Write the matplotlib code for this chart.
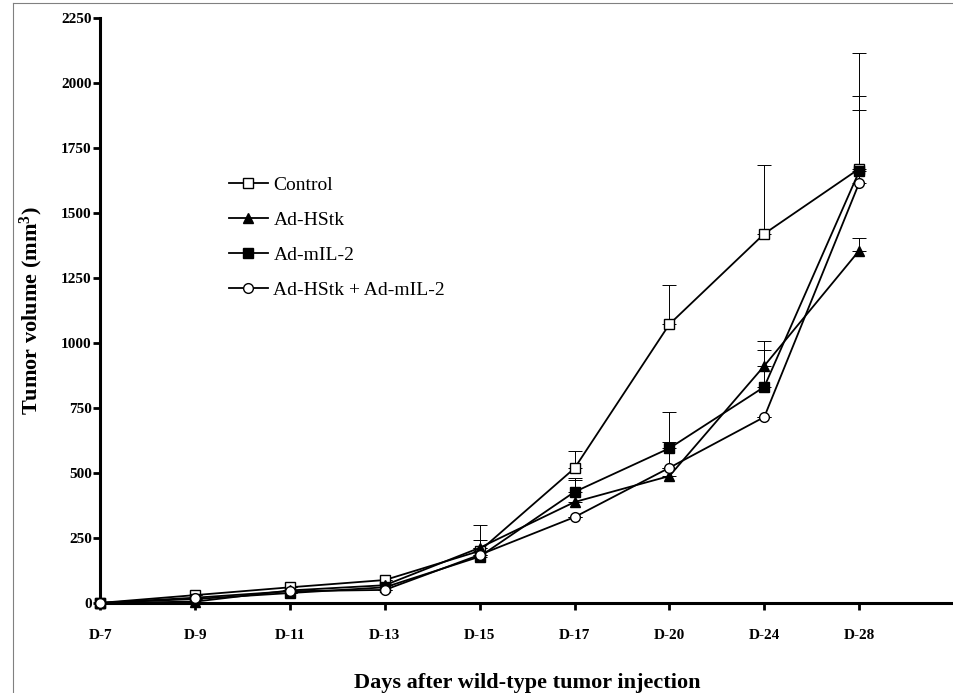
import matplotlib
matplotlib.use('Agg')
import matplotlib.pyplot as plt
import numpy as np

plt.rcParams['font.family'] = ['Liberation Serif', 'DejaVu Serif']
plt.rcParams['mathtext.fontset'] = 'custom'
plt.rcParams['mathtext.rm'] = 'Liberation Serif:bold'
plt.rcParams['mathtext.it'] = 'Liberation Serif:bold'

days = ['D-7', 'D-9', 'D-11', 'D-13', 'D-15', 'D-17', 'D-20', 'D-24', 'D-28']

control = [0, 30, 60, 88, 200, 518, 1072, 1420, 1670]
hstk = [0, 5, 48, 68, 212, 388, 488, 912, 1355]
mil2 = [0, 15, 38, 60, 178, 427, 595, 831, 1660]
combo = [0, 20, 45, 50, 185, 330, 520, 715, 1615]

control_err = [0, 0, 0, 0, 100, 65, 150, 265, 445]
hstk_err = [0, 0, 0, 0, 0, 85, 130, 95, 50]
mil2_err = [0, 0, 0, 0, 65, 55, 140, 142, 290]
combo_err = [0, 0, 0, 0, 0, 0, 0, 0, 280]

series = [
    ('Control', control, control_err, 's', 'white'),
    ('Ad-HStk', hstk, hstk_err, '^', 'black'),
    ('Ad-mIL-2', mil2, mil2_err, 's', 'black'),
    ('Ad-HStk + Ad-mIL-2', combo, combo_err, 'o', 'white'),
]

fig = plt.figure(figsize=(9.54, 6.93), dpi=100)
ax = fig.add_axes([0.105, 0.13, 0.895, 0.844])
x = np.arange(len(days))

for label, vals, err, mk, fc in series:
    vals = np.array(vals, dtype=float)
    err = np.array(err, dtype=float)
    ax.errorbar(x, vals, yerr=[np.zeros_like(err), err], fmt='none',
                ecolor='black', elinewidth=0.7, capsize=5, capthick=0.7,
                zorder=2)
    ax.plot(x, vals, '-', color='black', lw=1.3, marker=mk, ms=7,
            mfc=fc, mec='black', mew=1.0, label=label, clip_on=False,
            zorder=3)

ax.set_xlim(0, 9)
ax.set_ylim(0, 2250)
ax.set_xticks(x)
ax.set_xticklabels(days, fontsize=11, fontweight='bold')
ax.set_yticks(np.arange(0, 2251, 250))
ax.set_yticklabels([str(v) for v in range(0, 2251, 250)], fontsize=11,
                   fontweight='bold')
ax.spines['top'].set_visible(False)
ax.spines['right'].set_visible(False)
ax.spines['left'].set_linewidth(2.2)
ax.spines['bottom'].set_linewidth(2.2)
ax.tick_params(axis='both', direction='out', width=2, length=5)
ax.tick_params(axis='x', pad=14)
ax.tick_params(axis='y', pad=1)

ax.set_xlabel('Days after wild-type tumor injection', fontsize=16,
              fontweight='bold', labelpad=22)
ax.set_ylabel(r'Tumor volume (mm$^{3}$)', fontsize=16, fontweight='bold',
              labelpad=12)

leg = ax.legend(loc='upper left', bbox_to_anchor=(0.13, 0.76), frameon=False,
                fontsize=14, handlelength=2.0, handletextpad=0.3,
                labelspacing=0.9)

# thin border of the scanned frame
fig.add_artist(plt.Line2D([0.014, 0.014], [0.0, 0.996], color='gray', lw=0.8))
fig.add_artist(plt.Line2D([0.014, 1.0], [0.996, 0.996], color='gray', lw=0.8))

plt.savefig('out.png', dpi=100)
